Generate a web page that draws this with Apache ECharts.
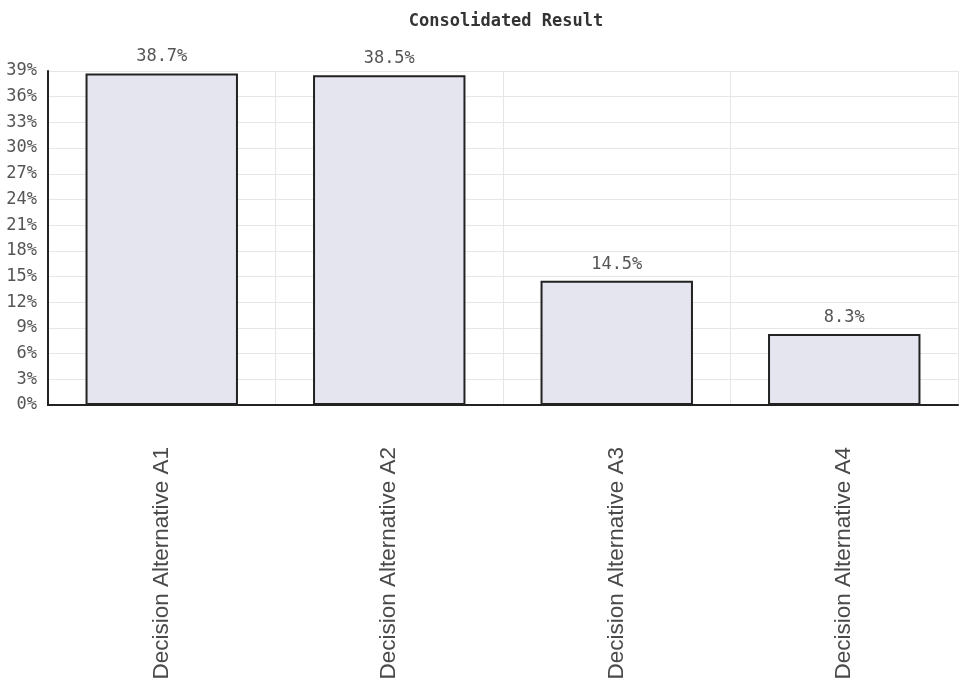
<!DOCTYPE html>
<html>
<head>
<meta charset="utf-8">
<script src="https://cdn.jsdelivr.net/npm/echarts@6/dist/echarts.min.js"></script>
<style>html,body{margin:0;padding:0;background:#fff;}#c{width:964px;height:680px;}</style>
</head>
<body>
<div id="c"></div>
<script>
const titleText = 'Consolidated Result';
const categories = ['Decision Alternative A1', 'Decision Alternative A2', 'Decision Alternative A3', 'Decision Alternative A4'];
const values = [38.7, 38.5, 14.5, 8.3];
const yTicks = [0, 3, 6, 9, 12, 15, 18, 21, 24, 27, 30, 33, 36, 39];

const mono = '"DejaVu Sans Mono", monospace';
const chart = echarts.init(document.getElementById('c'));
chart.setOption({
  backgroundColor: '#fff',
  animation: false,
  title: {
    text: titleText,
    left: 501, top: 8, textAlign: 'center',
    textStyle: { fontFamily: mono, fontSize: 17, fontWeight: 'bold', color: '#333' }
  },
  grid: { left: 48, right: 6, top: 71, bottom: 275, containLabel: false, outerBoundsMode: 'none' },
  xAxis: {
    type: 'category',
    data: categories,
    axisLine: { show: true, lineStyle: { color: '#222', width: 2 } },
    axisTick: { show: false },
    splitLine: { show: true, lineStyle: { color: '#e6e6e6', width: 1 } },
    axisLabel: {
      rotate: 90, margin: 42, interval: 0,
      fontFamily: '"Liberation Sans", Arial, sans-serif', fontSize: 22.5, color: '#4a4a4a'
    }
  },
  yAxis: {
    type: 'value',
    min: yTicks[0], max: yTicks[yTicks.length - 1], interval: 3,
    axisLine: { show: true, lineStyle: { color: '#222', width: 2 } },
    axisTick: { show: false },
    splitLine: { show: true, lineStyle: { color: '#e6e6e6', width: 1 } },
    axisLabel: {
      margin: 11, formatter: '{value}%',
      fontFamily: mono, fontSize: 17, color: '#555'
    }
  },
  series: [{
    type: 'bar',
    data: values,
    barCategoryGap: '33%',
    itemStyle: { color: '#e5e5ef', borderColor: '#222', borderWidth: 2 },
    label: {
      show: true, position: 'top', distance: 8,
      formatter: p => p.value.toFixed(1) + '%',
      fontFamily: mono, fontSize: 17, color: '#555'
    }
  }]
});
</script>
</body>
</html>
